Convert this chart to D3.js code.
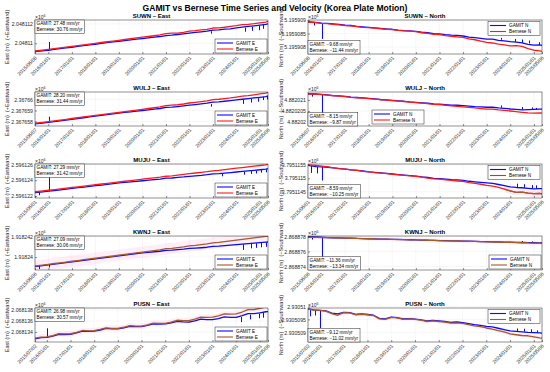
<!DOCTYPE html>
<html><head><meta charset="utf-8">
<script src="https://cdn.jsdelivr.net/npm/d3@7"></script>
<style>body{margin:0;background:#fff}svg{font-family:"Liberation Sans",Arial,sans-serif}</style>
</head><body><svg id="c" width="550" height="372"></svg>
<script>
const TITLE = "GAMIT vs Bernese Time Series and Velocity (Korea Plate Motion)";
const stations = ["SUWN","WULJ","MUJU","KWNJ","PUSN"];
const startDates = ["2015/06/08","2015/06/07","2015/06/01","2015/06/06","2015/07/02"];
const endDate = "2025/05/06";
const yearTicks = ["2016/01/01","2017/01/01","2018/01/01","2019/01/01","2020/01/01","2021/01/01","2022/01/01","2023/01/01","2024/01/01","2025/01/01"];
// sample epochs (decimal years); first = station start
const sampleYears = [2015.45,2015.75,2016,2016.25,2016.5,2016.75,2017,2017.25,2017.5,2017.75,2018,2018.25,2018.5,2018.75,2019,2019.25,2019.5,2019.75,2020,2020.25,2020.5,2020.75,2021,2021.25,2021.5,2021.75,2022,2022.25,2022.5,2022.75,2023,2023.25,2023.5,2023.75,2024,2024.25,2024.5,2024.75,2025,2025.25,2025.34];

// velocities (mm/yr)
const gamitVel   = [27.48, -9.68, 28.20, -8.15, 27.29, -8.59, 27.09, -11.36, 26.98, -9.12];
const berneseVel = [30.76, -11.44, 31.44, -9.87, 31.42, -10.25, 30.06, -13.34, 30.57, -11.02];

// reference bases (m) — series are offsets (m) from these
const bases = [2048110, 5195908, 2367658, 4882020, 2596122, 3795114.5, 1918240, 2868874, 2068134, 2930509];

const suwnE_gamit = [-0.87,-0.79,-0.72,-0.64,-0.56,-0.48,-0.41,-0.33,-0.25,-0.17,-0.10,-0.02,0.06,0.14,0.21,0.28,0.35,0.42,0.49,0.56,0.63,0.70,0.80,0.84,0.91,0.98,1.05,1.12,1.19,1.26,1.36,1.39,1.46,1.50,1.60,1.67,1.74,1.81,1.88,1.95,2.02];
const suwnE_bernese = [-0.80,-0.71,-0.63,-0.55,-0.48,-0.40,-0.32,-0.24,-0.16,-0.09,-0.01,0.08,0.16,0.23,0.31,0.39,0.47,0.55,0.63,0.70,0.78,0.86,0.99,1.05,1.06,1.12,1.25,1.30,1.38,1.44,1.58,1.60,1.66,1.75,1.82,1.93,1.96,2.03,2.12,2.20,2.28];
const suwnE_spikes = [[2016.02,-0.72,0.13],[2022.9,1.24,1.0],[2024.35,1.62,1.2],[2024.65,1.72,1.3],[2024.95,1.82,1.35],[2025.12,1.90,1.5]];

const suwnN_gamit = [0.94,0.92,0.89,0.88,0.86,0.84,0.81,0.80,0.77,0.75,0.73,0.71,0.69,0.67,0.66,0.63,0.61,0.60,0.58,0.55,0.53,0.50,0.49,0.46,0.44,0.43,0.41,0.37,0.35,0.32,0.29,0.29,0.25,0.23,0.20,0.18,0.15,0.10,0.07,0.08,0.06];
const suwnN_bernese = [0.93,0.91,0.88,0.87,0.84,0.82,0.80,0.79,0.76,0.73,0.72,0.70,0.68,0.66,0.65,0.62,0.60,0.59,0.57,0.53,0.51,0.47,0.46,0.42,0.40,0.38,0.36,0.30,0.27,0.22,0.17,0.15,0.11,0.08,0.04,0.05,0.02,-0.06,-0.12,-0.14,-0.16];
const suwnN_spikes = [[2015.7,0.92,0.80],[2016.02,0.89,0.30],[2023.6,0.27,0.34],[2024.2,0.19,0.30],[2024.5,0.16,0.28],[2024.8,0.13,0.24],[2025.2,0.08,0.18]];

const wuljE_gamit = [-0.22,-0.15,-0.08,-0.01,0.06,0.13,0.20,0.27,0.34,0.41,0.48,0.55,0.62,0.69,0.76,0.82,0.88,0.94,1.00,1.06,1.12,1.18,1.29,1.30,1.36,1.42,1.48,1.54,1.60,1.66,1.76,1.78,1.84,1.90,1.96,2.02,2.08,2.14,2.20,2.26,2.32];
const wuljE_bernese = [-0.16,-0.08,-0.01,0.06,0.13,0.20,0.27,0.34,0.41,0.48,0.55,0.62,0.69,0.76,0.83,0.90,0.97,1.04,1.11,1.18,1.25,1.32,1.45,1.48,1.52,1.59,1.68,1.74,1.80,1.87,1.98,2.02,2.08,2.14,2.22,2.30,2.35,2.42,2.50,2.58,2.64];
const wuljE_spikes = [[2016.02,-0.08,0.44],[2022.9,1.58,1.35],[2024.3,1.99,1.6],[2024.6,2.05,1.72],[2024.9,2.12,1.8],[2025.15,2.23,1.95],[2025.3,2.29,2.0]];

const wuljN_gamit = [1.28,1.27,1.25,1.23,1.20,1.18,1.16,1.13,1.11,1.09,1.07,1.05,1.02,1.00,0.98,0.96,0.94,0.91,0.89,0.87,0.85,0.82,0.81,0.79,0.77,0.76,0.74,0.72,0.70,0.69,0.67,0.67,0.64,0.62,0.59,0.57,0.55,0.56,0.57,0.58,0.58];
const wuljN_bernese = [1.27,1.26,1.24,1.22,1.19,1.17,1.15,1.12,1.10,1.08,1.06,1.04,1.01,0.99,0.97,0.95,0.93,0.90,0.88,0.86,0.83,0.80,0.79,0.76,0.73,0.71,0.69,0.66,0.64,0.61,0.58,0.58,0.55,0.53,0.50,0.47,0.44,0.41,0.40,0.41,0.40];
const wuljN_spikes = [[2015.6,1.27,1.15],[2016.02,1.25,0.0],[2023.6,0.65,0.75],[2024.5,0.56,0.68],[2024.9,0.56,0.66],[2025.1,0.57,0.64]];

const mujuE_gamit = [0.44,0.53,0.61,0.70,0.79,0.87,0.96,1.05,1.13,1.22,1.31,1.39,1.48,1.56,1.65,1.72,1.79,1.86,1.93,2.00,2.07,2.14,2.26,2.28,2.35,2.41,2.49,2.56,2.62,2.70,2.81,2.83,2.90,2.97,3.04,3.11,3.18,3.25,3.32,3.39,3.46];
const mujuE_bernese = [0.54,0.65,0.73,0.82,0.91,1.00,1.08,1.17,1.26,1.34,1.43,1.52,1.61,1.69,1.78,1.87,1.96,2.04,2.13,2.22,2.30,2.39,2.50,2.56,2.65,2.74,2.84,2.91,2.99,3.08,3.19,3.25,3.34,3.43,3.52,3.60,3.69,3.78,3.86,3.95,4.00];
const mujuE_spikes = [[2015.6,0.47,0.1],[2016.02,0.61,3.04],[2023.4,2.86,2.5],[2024.3,3.06,2.7],[2024.6,3.15,2.8],[2024.85,3.22,2.85],[2025.05,3.33,2.95],[2025.25,3.39,3.0]];

const mujuN_gamit = [0.98,0.93,0.92,0.91,0.89,0.86,0.84,0.81,0.79,0.77,0.74,0.72,0.70,0.68,0.66,0.64,0.62,0.60,0.58,0.55,0.53,0.50,0.49,0.47,0.45,0.44,0.42,0.39,0.37,0.35,0.33,0.31,0.27,0.23,0.18,0.16,0.15,0.13,0.11,0.12,0.12];
const mujuN_bernese = [1.00,0.98,0.95,0.92,0.89,0.86,0.84,0.81,0.79,0.76,0.74,0.71,0.69,0.67,0.65,0.63,0.61,0.59,0.57,0.54,0.51,0.48,0.47,0.44,0.42,0.40,0.39,0.34,0.31,0.28,0.24,0.21,0.16,0.10,0.03,-0.02,-0.01,-0.05,-0.07,-0.06,-0.08];
const mujuN_spikes = [[2015.55,0.96,0.70],[2015.8,0.93,0.68],[2016.02,0.92,0.42],[2024.3,0.17,0.30],[2024.6,0.15,0.28],[2024.9,0.13,0.25],[2025.1,0.11,0.24]];

const kwnjE_gamit = [-0.92,-0.83,-0.76,-0.68,-0.61,-0.54,-0.46,-0.39,-0.31,-0.24,-0.17,-0.09,-0.02,0.05,0.13,0.20,0.27,0.35,0.42,0.47,0.52,0.57,0.66,0.67,0.72,0.77,0.84,0.87,0.91,0.96,1.05,1.06,1.11,1.16,1.21,1.26,1.31,1.36,1.41,1.46,1.47];
const kwnjE_bernese = [-0.86,-0.77,-0.70,-0.62,-0.55,-0.48,-0.40,-0.33,-0.25,-0.18,-0.11,-0.03,0.04,0.11,0.19,0.26,0.33,0.41,0.48,0.55,0.63,0.70,0.82,0.85,0.92,0.99,1.09,1.14,1.21,1.28,1.39,1.43,1.50,1.57,1.65,1.72,1.79,1.87,1.94,2.01,2.05];
const kwnjE_spikes = [[2015.6,-0.85,-1.15],[2016.02,-0.76,-1.0],[2024.3,1.24,0.7],[2024.6,1.30,0.85],[2024.85,1.35,0.9],[2025.05,1.41,0.95],[2025.25,1.45,1.0]];

const kwnjN_gamit = [3.98,3.95,3.90,3.86,3.83,3.81,3.78,3.77,3.74,3.73,3.70,3.69,3.66,3.65,3.62,3.61,3.58,3.57,3.54,3.53,3.50,3.49,3.46,3.45,3.43,3.41,3.39,3.37,3.35,3.33,3.31,3.29,3.28,3.26,3.24,3.22,3.20,3.19,3.17,3.16,3.15];
const kwnjN_bernese = [3.90,3.88,3.86,3.84,3.82,3.80,3.78,3.75,3.74,3.72,3.70,3.67,3.66,3.64,3.62,3.59,3.58,3.56,3.54,3.51,3.50,3.48,3.46,3.43,3.42,3.40,3.38,3.35,3.34,3.31,3.29,3.27,3.25,3.22,3.21,3.19,3.17,3.14,3.13,3.11,3.09];
const kwnjN_spikes = [[2015.6,3.96,3.6],[2016.02,3.90,0.2],[2024.5,3.20,3.4],[2024.9,3.18,3.35]];

const pusnE_gamit = [-1.25,-1.03,-0.99,-0.75,-0.42,-0.46,-0.42,-0.18,0.15,0.11,0.16,0.36,0.64,0.56,0.56,0.76,1.04,0.96,0.96,1.19,1.49,1.44,1.47,1.66,1.94,1.82,1.80,2.01,2.32,2.23,2.24,2.44,2.76,2.66,2.67,2.96,3.33,3.32,3.49,3.68,3.70];
const pusnE_bernese = [-1.10,-0.93,-0.89,-0.65,-0.30,-0.36,-0.32,-0.08,0.27,0.21,0.26,0.46,0.76,0.66,0.66,0.86,1.16,1.06,1.06,1.29,1.61,1.54,1.57,1.80,2.13,2.05,2.08,2.33,2.69,2.64,2.69,2.94,3.30,3.25,3.30,3.63,4.05,4.08,4.30,4.53,4.60];
const pusnE_spikes = [[2016.02,-0.99,0.67],[2024.2,2.72,1.8],[2024.6,3.15,2.3],[2024.95,3.32,2.5],[2025.15,3.55,2.6]];

const pusnN_gamit = [0.91,0.87,0.85,0.83,0.74,0.71,0.77,0.76,0.69,0.71,0.69,0.66,0.54,0.52,0.59,0.57,0.52,0.53,0.51,0.48,0.44,0.46,0.44,0.42,0.39,0.40,0.38,0.34,0.30,0.27,0.23,0.21,0.16,0.11,0.06,0.04,0.02,0.00,-0.01,-0.02,-0.03];
const pusnN_bernese = [0.90,0.86,0.85,0.82,0.72,0.66,0.76,0.75,0.68,0.70,0.68,0.65,0.52,0.50,0.58,0.56,0.50,0.52,0.50,0.47,0.42,0.44,0.42,0.40,0.36,0.37,0.35,0.30,0.25,0.22,0.17,0.13,0.07,0.02,-0.06,-0.09,-0.12,-0.13,-0.17,-0.21,-0.22];
const pusnN_spikes = [[2015.6,0.88,0.62],[2015.8,0.86,0.65],[2016.02,0.85,0.17],[2024.3,0.05,0.15],[2024.6,0.03,0.14],[2024.9,0.01,0.12],[2025.15,-0.01,0.08]];

// y-axis tick values (offsets from base) and their labels (×10^6 m)
const yTickVals = [[0,2],[0,0.5,1],[0,1,2],[0,0.5,1],[0,2,4],[0,0.5,1],[0,2],[0,2,4],[0,2,4],[0,0.5,1]];
const yTickLabels = [["2.04811","2.048112"],["5.195908","5.1959085","5.195909"],["2.367658","2.367659","2.36766"],["4.88202","4.8820205","4.882021"],["2.596122","2.596124","2.596126"],["3.7951145","3.795115","3.7951155"],["1.91824","1.918242"],["2.868874","2.868876","2.868878"],["2.068134","2.068136","2.068138"],["2.930509","2.9305095","2.93051"]];

const BLUE = "#0a0aff", RED = "#ff1a1a", BROWN = "#a55a2a", INK = "#262626";
const panels = [
 {comp:"East", yDomain:[-1.11,2.41], g:suwnE_gamit, b:suwnE_bernese, s:suwnE_spikes, bcol:RED, vel:"top", leg:"br"},
 {comp:"North", yDomain:[-0.26,1.005], g:suwnN_gamit, b:suwnN_bernese, s:suwnN_spikes, bcol:RED, vel:"bottom", leg:"tr"},
 {comp:"East", yDomain:[-0.41,2.68], g:wuljE_gamit, b:wuljE_bernese, s:wuljE_spikes, bcol:RED, vel:"top", leg:"br"},
 {comp:"North", yDomain:[-0.18,1.36], g:wuljN_gamit, b:wuljN_bernese, s:wuljN_spikes, bcol:RED, vel:"bottom", leg:[64,18]},
 {comp:"East", yDomain:[-0.25,4.05], g:mujuE_gamit, b:mujuE_bernese, s:mujuE_spikes, bcol:RED, vel:"top", leg:"br"},
 {comp:"North", yDomain:[-0.23,1.03], g:mujuN_gamit, b:mujuN_bernese, s:mujuN_spikes, bcol:RED, vel:"bottom", leg:"tr", band:{from:2023.7, half:0.12, col:BROWN}},
 {comp:"East", yDomain:[-1.25,2.05], g:kwnjE_gamit, b:kwnjE_bernese, s:kwnjE_spikes, bcol:BROWN, vel:"top", leg:"br", band:{from:2015, half:0.55}},
 {comp:"North", yDomain:[-0.47,4.07], g:kwnjN_gamit, b:kwnjN_bernese, s:kwnjN_spikes, bcol:BROWN, vel:"bottom", leg:"br", band:{from:2015, half:0.25}},
 {comp:"East", yDomain:[-1.82,4.36], g:pusnE_gamit, b:pusnE_bernese, s:pusnE_spikes, bcol:BROWN, vel:"top", leg:"br", band:{from:2015, half:0.5}},
 {comp:"North", yDomain:[-0.37,0.94], g:pusnN_gamit, b:pusnN_bernese, s:pusnN_spikes, bcol:BROWN, vel:"bottom", leg:"tr", band:{from:2015, half:0.07}}
];

const svg = d3.select("#c");
svg.append("rect").attr("width",550).attr("height",372).attr("fill","#fff");
svg.append("text").attr("x",275).attr("y",11).attr("text-anchor","middle")
  .attr("font-size",8.6).attr("font-weight","bold").attr("fill","#000").text(TITLE);

const COLX = [[35,268],[308,542]];
const TOP0 = 20, ROWSTEP = 72, PH = 34;
const FONT = "'Liberation Sans', Arial, sans-serif";

function toDate(v){const yr=Math.floor(v);const a=Date.UTC(yr,0,1),b=Date.UTC(yr+1,0,1);return new Date(a+(v-yr)*(b-a));}
function parseD(s){const p=s.split("/").map(Number);return new Date(Date.UTC(p[0],p[1]-1,p[2]));}
const fmtVel = v => (v<0?"\u2212":"")+Math.abs(v).toFixed(2);

panels.forEach((p,k)=>{
  const r=Math.floor(k/2), c=k%2;
  const [x0,x1]=COLX[c]; const y0=TOP0+r*ROWSTEP, y1=y0+PH;
  const t0=parseD(startDates[r]), t1=parseD(endDate);
  const x=d3.scaleUtc().domain([t0,t1]).range([x0,x1]);
  const y=d3.scaleLinear().domain(p.yDomain).range([y1,y0]);
  const times=sampleYears.map((v,i)=> i===0?t0:(i===sampleYears.length-1?t1:toDate(v)));
  const g=svg.append("g");
  const cid="clip"+k;
  g.append("clipPath").attr("id",cid).append("rect").attr("x",x0).attr("y",y0).attr("width",x1-x0).attr("height",PH);
  const xTickDates=[t0, ...yearTicks.map(parseD), t1];
  const xTickLabels=[startDates[r], ...yearTicks, endDate];

  const grid=g.append("g").attr("stroke","#ebebeb").attr("stroke-width",0.4);
  xTickDates.forEach(d=>grid.append("line").attr("x1",x(d)).attr("x2",x(d)).attr("y1",y0).attr("y2",y1));
  yTickVals[k].forEach(v=>grid.append("line").attr("x1",x0).attr("x2",x1).attr("y1",y(v)).attr("y2",y(v)));

  const plot=g.append("g").attr("clip-path",`url(#${cid})`);
  const bern=times.map((t,i)=>[t,p.b[i]]);
  const gam=times.map((t,i)=>[t,p.g[i]]);
  const line=d3.line().x(d=>x(d[0])).y(d=>y(d[1]));
  if(p.band){
    const from=toDate(p.band.from);
    const bd=bern.filter(d=>d[0]>=from);
    plot.append("path").datum(bd).attr("fill","#ff5ab4").attr("fill-opacity",0.11)
      .attr("d",d3.area().x(d=>x(d[0])).y0(d=>y(d[1]-p.band.half)).y1(d=>y(d[1]+p.band.half)));
  }
  plot.append("path").datum(gam).attr("d",line).attr("fill","none").attr("stroke",BLUE).attr("stroke-width",1.3).attr("stroke-linejoin","round");
  const sx = d => Math.round(x(toDate(d[0])))+0.5;
  plot.selectAll(null).data(p.s).join("line")
    .attr("x1",sx).attr("x2",sx)
    .attr("y1",d=>y(d[1])).attr("y2",d=>y(d[2])).attr("stroke",BLUE).attr("stroke-width",1);
  plot.append("path").datum(bern).attr("d",line).attr("fill","none").attr("stroke",p.bcol).attr("stroke-width",1.3).attr("stroke-linejoin","round");
  if(p.band && p.band.col){
    const from=toDate(p.band.from);
    plot.append("path").datum(bern.filter(d=>d[0]>=from)).attr("d",line).attr("fill","none").attr("stroke",p.band.col).attr("stroke-width",1.3);
  }

  g.append("rect").attr("x",x0).attr("y",y0).attr("width",x1-x0).attr("height",PH)
    .attr("fill","none").attr("stroke",INK).attr("stroke-width",0.5);

  const ya=g.append("g").attr("transform",`translate(${x0},0)`)
    .call(d3.axisLeft(y).tickValues(yTickVals[k]).tickFormat((d,i)=>yTickLabels[k][i]).tickSizeInner(-2).tickSizeOuter(0).tickPadding(2));
  ya.attr("font-size",5.2).attr("font-family",FONT);
  ya.select(".domain").remove();
  ya.selectAll("line").attr("stroke",INK).attr("stroke-width",0.5);
  ya.selectAll("text").attr("fill",INK);

  const xa=g.append("g").attr("transform",`translate(0,${y1})`)
    .call(d3.axisBottom(x).tickValues(xTickDates).tickFormat((d,i)=>xTickLabels[i]).tickSizeInner(-2).tickSizeOuter(0));
  xa.attr("font-size",5).attr("font-family",FONT);
  xa.select(".domain").remove();
  xa.selectAll("line").attr("stroke",INK).attr("stroke-width",0.5);
  xa.selectAll("text").attr("fill",INK).attr("y",0).attr("dy","0.35em")
    .attr("transform","translate(0.5,3) rotate(-45)").attr("text-anchor","end");

  // exponent label
  const ex=g.append("text").attr("x",x0).attr("y",y0-1.5).attr("font-size",5).attr("fill",INK).attr("font-family",FONT).text("\u00d710");
  ex.append("tspan").attr("dy",-2).attr("font-size",3.6).text("6");

  // subplot title
  g.append("text").attr("x",(x0+x1)/2).attr("y",y0-2.2).attr("text-anchor","middle")
    .attr("font-size",6).attr("font-weight","bold").attr("fill","#000").text(`${stations[r]} \u2013 ${p.comp}`);

  // y label
  const yl = c===0 ? "East (m)  (+Eastward)" : "North (m)  (\u2212Southward)";
  g.append("text").attr("transform",`translate(${c===0?9:283},${(y0+y1)/2}) rotate(-90)`)
    .attr("text-anchor","middle").attr("font-size",5.6).attr("fill",INK).style("white-space","pre").text(yl);

  // velocity box
  const vb=g.append("g");
  const vr=vb.append("rect").attr("fill","#fff").attr("stroke",INK).attr("stroke-width",0.5);
  const t1s=vb.append("text").attr("x",1.5).attr("y",5.4).attr("font-size",4.7).attr("fill","#000").text(`GAMIT: ${fmtVel(gamitVel[k])} mm/yr`);
  const t2s=vb.append("text").attr("x",1.5).attr("y",11.3).attr("font-size",4.7).attr("fill","#000").text(`Bernese: ${fmtVel(berneseVel[k])} mm/yr`);
  const vw=Math.max(t1s.node().getComputedTextLength(),t2s.node().getComputedTextLength())+3.5;
  vr.attr("width",vw).attr("height",13.5);
  const vy = p.vel==="top" ? y0 : y1-13.5;
  vb.attr("transform",`translate(${x0},${vy})`);

  // legend
  const LW=52, LH=14;
  let lx, ly;
  if(p.leg==="br"){lx=x1-53; ly=y1-15;}
  else if(p.leg==="tr"){lx=x1-54; ly=y0+1.5;}
  else {lx=x0+p.leg[0]; ly=y0+p.leg[1];}
  const lg=g.append("g").attr("transform",`translate(${lx},${ly})`);
  lg.append("rect").attr("width",LW).attr("height",LH).attr("fill","#fff").attr("stroke",INK).attr("stroke-width",0.5);
  const suffix = p.comp==="East"?"E":"N";
  [["GAMIT "+suffix,BLUE],["Bernese "+suffix,p.bcol]].forEach((e,i)=>{
    const cy=4+i*6;
    lg.append("line").attr("x1",2).attr("x2",18).attr("y1",cy).attr("y2",cy).attr("stroke",e[1]).attr("stroke-width",1.1);
    lg.append("text").attr("x",21).attr("y",cy+1.7).attr("font-size",4.7).attr("fill","#000").text(e[0]);
  });
});
</script>
</body></html>
